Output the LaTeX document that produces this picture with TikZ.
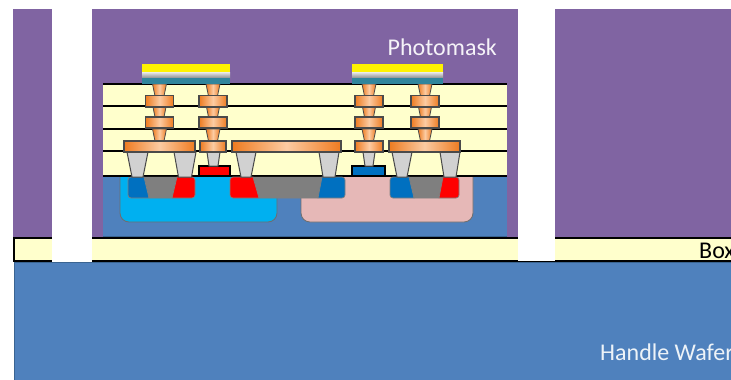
\documentclass[tikz,border=0pt]{standalone}
\usepackage{fontspec}
\setmainfont{Carlito}
\definecolor{purp}{HTML}{8064A2}
\definecolor{wafer}{HTML}{4F81BD}
\definecolor{waferdk}{HTML}{3A6491}
\definecolor{cream}{HTML}{FFFFCC}
\definecolor{cyanw}{HTML}{00B0F0}
\definecolor{pinkw}{HTML}{E6B8B7}
\definecolor{nblue}{HTML}{0070C0}
\definecolor{chan}{HTML}{7F7F7F}
\definecolor{teal}{HTML}{31859C}
\definecolor{orgd}{HTML}{EE7B20}
\definecolor{orgl}{HTML}{FCCBA2}
\definecolor{edge}{HTML}{4A4A4A}
\tikzset{
  x=1pt,y=-1pt,
  layerline/.style={line width=2pt,black},
  orangepad/.style={draw=edge,line width=1.1pt,left color=orgd,right color=orgd,middle color=orgl},
  orangevia/.style={draw=edge,line width=0.8pt,left color=orgd,right color=orgd,middle color=orgl},
  greyvia/.style={draw=edge,line width=1pt,fill=black!18},
  well/.style={draw=edge!80,line width=0.8pt,rounded corners=9pt},
  sdregion/.style={draw=edge!70,line width=0.7pt},
  channel/.style={fill=chan,draw=edge!70,line width=0.5pt},
  gatebar/.style={draw=black,line width=1.5pt},
  label/.style={inner sep=0pt,font=\fontsize{24pt}{28pt}\selectfont,anchor=base west},
}
% via taper: centre x, top y, bottom y, half top, half bottom, style
\newcommand{\taper}[6]{\path[#6] (#1-#4,#2) -- (#1+#4,#2) -- (#1+#5,#3) -- (#1-#5,#3) -- cycle;}
\newcommand{\padrect}[4]{\path[orangepad] (#1,#3) rectangle (#2,#4);}
\begin{document}
\begin{tikzpicture}
\useasboundingbox (0,0) rectangle (731,380);
\fill[white] (0,0) rectangle (731,380);
% substrate, box, mask
\fill[purp] (13,9) rectangle (731,238);
\fill[wafer] (14,262) rectangle (731,380);
\draw[waferdk,line width=1pt] (14.5,380) -- (14.5,262.5) -- (731,262.5);
\fill[cream] (14,238) rectangle (731,261);
\draw[black,line width=1.8pt] (731,238) -- (14,238) -- (14,261) -- (731,261);
% device wafer
\fill[wafer] (103,176) rectangle (507,237);
\draw[waferdk,line width=1pt] (103,236.5) -- (507,236.5);
% dielectric layers
\fill[cream] (103,84) rectangle (507,176);
\foreach \yy in {84,106,128.5,151,176} \draw[layerline] (103,\yy) -- (507,\yy);
% wells
\path[well,fill=cyanw] (120,177) -- (120,222) -- (277,222) -- (277,177);
\path[well,fill=pinkw] (301,177) -- (301,222) -- (473,222) -- (473,177);
% channels
\path[channel] (144,177) -- (177,177) -- (172,198) -- (149,198) -- cycle;
\path[channel] (253,177) -- (322,177) -- (318,198) -- (259,198) -- cycle;
\path[channel] (409,177) -- (443,177) -- (439,198) -- (414,198) -- cycle;
% sources and drains
\path[sdregion,fill=nblue] (144,177) -- (149,198) [rounded corners=3pt] -- (128,198) -- (128,177) [sharp corners] -- cycle;
\path[sdregion,fill=red] (177,177) -- (172,198) [rounded corners=3pt] -- (195,198) -- (195,177) [sharp corners] -- cycle;
\path[sdregion,fill=red] (253,177) -- (259,198) [rounded corners=3pt] -- (230,198) -- (230,177) [sharp corners] -- cycle;
\path[sdregion,fill=nblue] (322,177) -- (318,198) [rounded corners=3pt] -- (345,198) -- (345,177) [sharp corners] -- cycle;
\path[sdregion,fill=nblue] (409,177) -- (414,198) [rounded corners=3pt] -- (390,198) -- (390,177) [sharp corners] -- cycle;
\path[sdregion,fill=red] (443,177) -- (439,198) [rounded corners=3pt] -- (459,198) -- (459,177) [sharp corners] -- cycle;
% gates
\path[gatebar,fill=red] (199,166) rectangle (230,176);
\path[gatebar,fill=nblue] (352,166) rectangle (385,176);
% contacts
\taper{137.5}{152}{177}{10.5}{5.5}{greyvia}
\taper{185}{152}{177}{11}{6.5}{greyvia}
\taper{213.5}{152}{166}{6.5}{4.5}{greyvia}
\taper{246}{152}{177}{10}{5}{greyvia}
\taper{329}{152}{177}{10}{6}{greyvia}
\taper{369}{152}{166}{6}{4}{greyvia}
\taper{402}{152}{177}{10}{5}{greyvia}
\taper{450}{152}{177}{10}{6}{greyvia}
% via stacks
\foreach \cx in {159.5,213,369,425}{
  \taper{\cx}{84}{96}{7}{4.5}{orangevia}
  \taper{\cx}{107}{117}{6.5}{4.5}{orangevia}
  \taper{\cx}{129}{141}{7}{4.5}{orangevia}
  \padrect{\cx-14}{\cx+14}{95.5}{107}
  \padrect{\cx-14}{\cx+14}{117}{128}
}
% top pads
\padrect{124}{195}{141}{152}
\padrect{200}{226}{141}{152}
\padrect{232}{341}{141}{152}
\padrect{355}{383}{141}{152}
\padrect{389}{460}{141}{152}
% bond pads
\foreach \xa/\xb in {142/230,352/443}{
  \fill[yellow] (\xa,64) rectangle (\xb,72);
  \path[top color=black!8,bottom color=black!45] (\xa,72) rectangle (\xb,78);
  \fill[teal] (\xa,78) rectangle (\xb,84);
}
% alignment openings
\fill[white] (52,0) rectangle (92,261.5);
\fill[white] (518,0) rectangle (555,260.5);
% labels
\node[label,text=white!92!purp] (mask) at (387.5,55) {Photomask};
\node[label,text=black] (box) at (699,258) {Box};
\node[label,text=white!90!wafer] (handle) at (600,360) {Handle Wafer};
\end{tikzpicture}
\end{document}
